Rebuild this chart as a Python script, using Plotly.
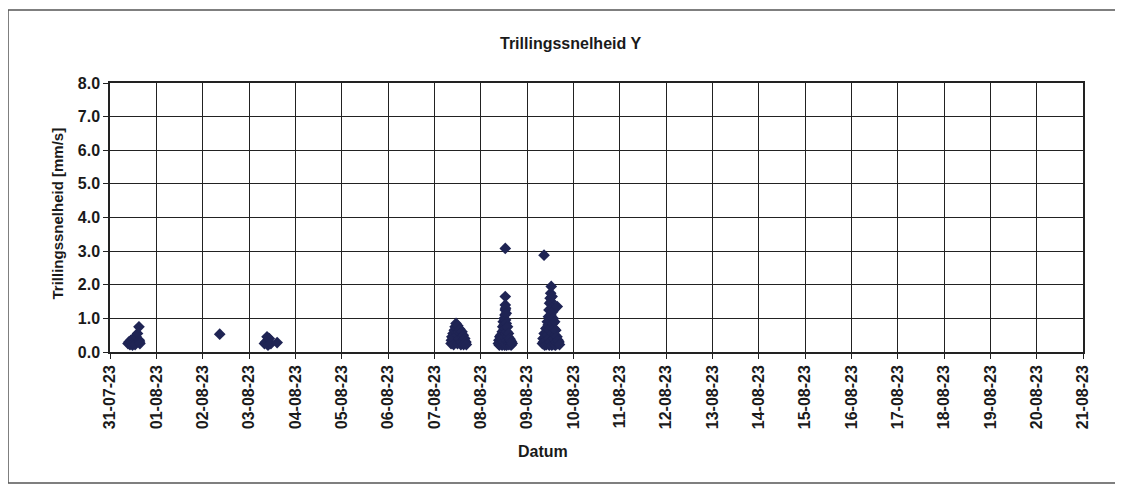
import plotly.graph_objs as go

times_3107 = ["2023-07-31 09:20", "2023-07-31 09:50", "2023-07-31 10:20", "2023-07-31 10:50",
              "2023-07-31 11:20", "2023-07-31 11:40", "2023-07-31 12:00", "2023-07-31 12:40",
              "2023-07-31 13:00", "2023-07-31 13:30", "2023-07-31 14:15", "2023-07-31 15:00",
              "2023-07-31 15:10", "2023-07-31 15:20", "2023-07-31 15:30"]
vals_3107 = [0.25, 0.30, 0.22, 0.35, 0.28, 0.20, 0.40, 0.30, 0.22, 0.45, 0.55, 0.75, 0.35, 0.30, 0.25]

times_0208 = ["2023-08-02 08:50"]
vals_0208 = [0.53]

times_0308 = ["2023-08-03 08:00", "2023-08-03 08:40", "2023-08-03 09:20", "2023-08-03 09:50",
              "2023-08-03 10:30", "2023-08-03 11:20", "2023-08-03 14:35"]
vals_0308 = [0.25, 0.30, 0.45, 0.20, 0.40, 0.25, 0.28]

times_0708 = ["2023-08-07 08:40", "2023-08-07 08:50", "2023-08-07 09:05", "2023-08-07 09:20",
              "2023-08-07 09:40", "2023-08-07 09:50", "2023-08-07 10:00", "2023-08-07 10:20",
              "2023-08-07 10:45", "2023-08-07 11:15", "2023-08-07 11:35", "2023-08-07 11:50",
              "2023-08-07 12:00", "2023-08-07 12:10", "2023-08-07 12:35", "2023-08-07 12:55",
              "2023-08-07 13:15", "2023-08-07 13:35", "2023-08-07 13:45", "2023-08-07 14:00",
              "2023-08-07 14:20", "2023-08-07 14:40", "2023-08-07 15:00", "2023-08-07 15:10",
              "2023-08-07 15:25", "2023-08-07 15:45", "2023-08-07 16:05", "2023-08-07 16:20",
              "2023-08-07 16:35"]
vals_0708 = [0.25, 0.35, 0.45, 0.30, 0.55, 0.40, 0.22, 0.65, 0.75, 0.85, 0.70, 0.50,
             0.25, 0.78, 0.60, 0.40, 0.68, 0.55, 0.22, 0.30, 0.60, 0.45, 0.50, 0.22,
             0.35, 0.40, 0.28, 0.30, 0.22]

times_0808 = ["2023-08-08 09:10", "2023-08-08 09:25", "2023-08-08 09:40", "2023-08-08 09:55",
              "2023-08-08 10:05", "2023-08-08 10:10", "2023-08-08 10:25", "2023-08-08 10:40",
              "2023-08-08 10:55", "2023-08-08 11:05", "2023-08-08 11:10", "2023-08-08 11:20",
              "2023-08-08 11:25", "2023-08-08 11:40", "2023-08-08 11:40", "2023-08-08 11:55",
              "2023-08-08 11:55", "2023-08-08 12:10", "2023-08-08 12:10", "2023-08-08 12:25",
              "2023-08-08 12:25", "2023-08-08 12:35", "2023-08-08 12:35", "2023-08-08 12:45",
              "2023-08-08 12:45", "2023-08-08 12:45", "2023-08-08 12:45", "2023-08-08 12:55",
              "2023-08-08 12:55", "2023-08-08 13:05", "2023-08-08 13:15", "2023-08-08 13:15",
              "2023-08-08 13:25", "2023-08-08 13:35", "2023-08-08 13:35", "2023-08-08 13:55",
              "2023-08-08 14:10", "2023-08-08 14:25", "2023-08-08 14:35", "2023-08-08 14:45",
              "2023-08-08 15:00", "2023-08-08 15:15", "2023-08-08 15:30", "2023-08-08 15:45",
              "2023-08-08 16:00", "2023-08-08 16:20"]
vals_0808 = [0.25, 0.35, 0.20, 0.45, 0.30, 0.30, 0.50, 0.25, 0.40, 0.20, 0.60, 0.35,
             0.75, 0.50, 0.90, 0.30, 0.65, 0.80, 1.00, 0.45, 0.20, 1.10, 0.70, 1.25,
             1.40, 1.65, 3.08, 1.30, 0.95, 0.55, 1.15, 0.85, 0.20, 0.60, 0.35, 0.75,
             0.45, 0.55, 0.22, 0.30, 0.40, 0.25, 0.35, 0.20, 0.30, 0.25]

times_0908 = ["2023-08-09 08:00", "2023-08-09 08:18", "2023-08-09 08:35", "2023-08-09 08:53",
              "2023-08-09 09:11", "2023-08-09 09:28", "2023-08-09 09:46", "2023-08-09 09:55",
              "2023-08-09 10:04", "2023-08-09 10:13", "2023-08-09 08:50", "2023-08-09 10:30",
              "2023-08-09 10:39", "2023-08-09 10:57", "2023-08-09 11:06", "2023-08-09 11:14",
              "2023-08-09 11:23", "2023-08-09 11:32", "2023-08-09 11:32", "2023-08-09 11:41",
              "2023-08-09 11:50", "2023-08-09 11:59", "2023-08-09 12:07", "2023-08-09 12:16",
              "2023-08-09 12:25", "2023-08-09 12:34", "2023-08-09 12:34", "2023-08-09 12:43",
              "2023-08-09 12:52", "2023-08-09 12:52", "2023-08-09 13:00", "2023-08-09 13:09",
              "2023-08-09 13:18", "2023-08-09 13:27", "2023-08-09 13:36", "2023-08-09 13:44",
              "2023-08-09 14:02", "2023-08-09 14:11", "2023-08-09 14:20", "2023-08-09 14:38",
              "2023-08-09 14:46", "2023-08-09 14:55", "2023-08-09 15:40", "2023-08-09 15:13",
              "2023-08-09 15:31", "2023-08-09 15:49", "2023-08-09 16:07", "2023-08-09 16:33",
              "2023-08-09 16:50"]
vals_0908 = [0.25, 0.40, 0.30, 0.55, 0.20, 0.45, 0.70, 0.35, 0.22, 0.60, 2.88, 0.90,
             0.50, 0.80, 1.05, 0.40, 1.25, 0.65, 0.20, 1.45, 0.95, 1.60, 0.30, 1.75,
             1.10, 1.95, 1.50, 0.75, 1.30, 0.20, 1.65, 0.55, 1.20, 0.85, 1.00, 0.40,
             0.70, 0.22, 0.90, 0.50, 0.20, 0.65, 1.35, 0.30, 0.45, 0.25, 0.35, 0.30,
             0.22]

times = times_3107 + times_0208 + times_0308 + times_0708 + times_0808 + times_0908
values = vals_3107 + vals_0208 + vals_0308 + vals_0708 + vals_0808 + vals_0908

x_range = ["2023-07-31", "2023-08-21"]
y_range = [0, 8]

# the page body adds an 8px margin, so screen positions are shifted by OFF
OFF = 8
W, H = 1123, 486
L, R, T, B = 110 - OFF, 1083 - OFF, 83 - OFF, 352 - OFF  # plot area in figure pixels


def px(x):
    return (x - OFF - L) / (R - L)


def py(y):
    return (B - (y - OFF)) / (B - T)


font = "Liberation Sans, Arial, sans-serif"
ink = "#1a1a1a"

fig = go.Figure()

fig.add_trace(go.Scatter(x=times, y=values, mode="markers",
                         marker=dict(symbol="diamond", size=9, color="#1f2454",
                                     line=dict(width=0)),
                         showlegend=False))

fig.update_layout(
    width=W, height=H,
    margin=dict(l=L, r=W - R, t=T, b=H - B),
    paper_bgcolor="white", plot_bgcolor="white",
    font=dict(family=font, size=16, color=ink),
)

fig.update_xaxes(
    type="date", range=x_range, tick0="2023-07-31", dtick=86400000,
    tickformat="%d-%m-%y", tickangle=-90,
    tickfont=dict(family=font, size=16, weight="bold", color=ink),
    showgrid=True, gridcolor="#222", gridwidth=1.2,
    showline=True, linecolor="#222", linewidth=1.5, mirror=True,
    ticks="outside", ticklen=5, tickcolor="#222", zeroline=False,
)
fig.update_yaxes(
    range=y_range, dtick=1, tickformat=".1f",
    tickfont=dict(family=font, size=16, weight="bold", color=ink),
    showgrid=True, gridcolor="#222", gridwidth=1.2,
    showline=True, linecolor="#222", linewidth=1.5, mirror=True,
    ticks="outside", ticklen=5, tickcolor="#222", zeroline=False,
)

# outer chart frame
fig.add_shape(type="rect", xref="paper", yref="paper",
              x0=px(8), x1=px(1117), y0=py(483), y1=py(10),
              line=dict(color="#555", width=1.5), layer="below")

# titles
fig.add_annotation(text="<b>Trillingssnelheid Y</b>", xref="paper", yref="paper",
                   x=px(570), y=py(33), showarrow=False,
                   font=dict(family=font, size=16, color=ink))
fig.add_annotation(text="<b>Trillingssnelheid [mm/s]</b>", xref="paper", yref="paper",
                   x=px(46), y=py(214), showarrow=False, textangle=-90,
                   font=dict(family=font, size=15, color=ink))
fig.add_annotation(text="<b>Datum</b>", xref="paper", yref="paper",
                   x=px(543), y=py(462), showarrow=False,
                   font=dict(family=font, size=16, color=ink))

fig.write_html("out.html")
